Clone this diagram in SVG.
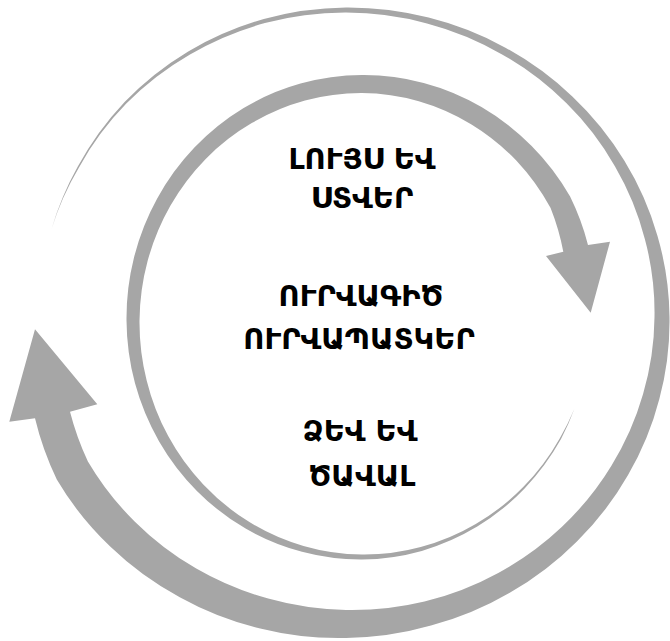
<svg xmlns="http://www.w3.org/2000/svg" width="670" height="641" viewBox="0 0 670 641">
  <style>
    .arrow { fill: #a6a6a6; stroke: none; }
    .label { font-family: "DejaVu Sans", "Noto Sans", sans-serif; font-weight: bold; font-size: 29px; fill: #000000; text-anchor: middle; }
  </style>
  <rect x="0" y="0" width="670" height="641" fill="#ffffff"/>
  <g id="connectors">
    <path id="outer-arrow" class="arrow" d="M51.4,229.5
      A316,307 0 0 1 77.8,166.5
      A316,307 0 0 1 124.6,101.9
      A316,307 0 0 1 188.2,51.4
      A316,307 0 0 1 263.8,19.0
      A316,307 0 0 1 346,7.5
      A316,307 0 0 1 428.6,17.6
      A316,307 0 0 1 505.9,47.9
      A316,307 0 0 1 572.6,96.7
      A316,307 0 0 1 624.4,160.75
      A316,307 0 0 1 657.5,235.9
      A316,307 0 0 1 669.5,317
      A316,307 0 0 1 659.4,398.7
      A316,307 0 0 1 627.9,475.25
      A316,307 0 0 1 576.9,541.5
      A316,307 0 0 1 509.75,592.8
      A316,307 0 0 1 431.0,625.6
      A316,307 0 0 1 346,638
      A316,307 0 0 1 260.2,628.5
      A316,307 0 0 1 179.75,597.2
      A316,307 0 0 1 110.2,546.5
      A316,307 0 0 1 56.8,479.5
      A316,307 0 0 1 35,418.3
      L9.3,421.7 L35,329.3 L97.3,404.3 L70,411.7
      A300,291 0 0 0 87.9,461.5
      A300,291 0 0 0 134.9,521.7
      A300,291 0 0 0 196.25,568.6
      A300,291 0 0 0 268.2,598.6
      A300,291 0 0 0 346,610
      A300,291 0 0 0 424.5,601.5
      A300,291 0 0 0 498.25,572.9
      A300,291 0 0 0 562.0,526.7
      A300,291 0 0 0 611.4,465.75
      A300,291 0 0 0 643.0,394.3
      A300,291 0 0 0 654.5,317
      A300,291 0 0 0 644.9,239.2
      A300,291 0 0 0 614.9,166.25
      A300,291 0 0 0 566.3,103.1
      A300,291 0 0 0 502.1,54.4
      A300,291 0 0 0 427.0,23.4
      A300,291 0 0 0 346,12.5
      A300,291 0 0 0 264.9,23.1
      A300,291 0 0 0 190.0,54.5
      A300,291 0 0 0 126.3,103.6
      A300,291 0 0 0 79.1,167.3
      A300,291 0 0 0 51.4,229.5 Z"/>
    <path id="inner-arrow" class="arrow" d="M574.3,409.1
      A236,243 0 0 1 561.0,439.1
      A236,243 0 0 1 524.6,488.4
      A236,243 0 0 1 477.25,526.6
      A236,243 0 0 1 421.8,550.9
      A236,243 0 0 1 362,559.5
      A236,243 0 0 1 302.0,551.8
      A236,243 0 0 1 245.6,528.6
      A236,243 0 0 1 196.9,490.9
      A236,243 0 0 1 159.1,441.4
      A236,243 0 0 1 135.0,383.3
      A236,243 0 0 1 126.5,320.5
      A236,243 0 0 1 134.0,257.5
      A236,243 0 0 1 157.2,198.5
      A236,243 0 0 1 194.4,147.6
      A236,243 0 0 1 243.25,108.3
      A236,243 0 0 1 300.5,83.6
      A236,243 0 0 1 362,75.0
      A236,243 0 0 1 423.7,82.9
      A236,243 0 0 1 481.5,107.0
      A236,243 0 0 1 531.4,145.8
      A236,243 0 0 1 570.1,196.6
      A236,243 0 0 1 588,245
      L610,241.7 L590.7,312.7 L546,256 L563.3,251.7
      A222,230 0 0 0 550.6,207.9
      A222,230 0 0 0 516.5,160.7
      A222,230 0 0 0 471.5,124.4
      A222,230 0 0 0 418.8,101.2
      A222,230 0 0 0 362,93.0
      A222,230 0 0 0 305.0,100.5
      A222,230 0 0 0 251.75,123.1
      A222,230 0 0 0 205.7,158.9
      A222,230 0 0 0 170.2,206.0
      A222,230 0 0 0 147.6,261.1
      A222,230 0 0 0 139.5,320.5
      A222,230 0 0 0 146.6,380.2
      A222,230 0 0 0 168.2,436.1
      A222,230 0 0 0 203.3,484.5
      A222,230 0 0 0 249.4,522.1
      A222,230 0 0 0 303.5,546.0
      A222,230 0 0 0 362,554.5
      A222,230 0 0 0 420.7,547.0
      A222,230 0 0 0 475.75,524.0
      A222,230 0 0 0 523.2,487.0
      A222,230 0 0 0 559.7,438.4
      A222,230 0 0 0 574.3,409.1 Z"/>
  </g>
  <g id="node-light-shadow">
    <text class="label" x="362" y="169">ԼՈՒՅՍ ԵՎ</text>
    <text class="label" x="362" y="208">ՍՏՎԵՐ</text>
  </g>
  <g id="node-contour">
    <text class="label" x="361" y="306">ՈՒՐՎԱԳԻԾ</text>
    <text class="label" x="359" y="349">ՈՒՐՎԱՊԱՏԿԵՐ</text>
  </g>
  <g id="node-form-volume">
    <text class="label" x="360" y="441">ՁԵՎ ԵՎ</text>
    <text class="label" x="362" y="486">ԾԱՎԱԼ</text>
  </g>
</svg>
